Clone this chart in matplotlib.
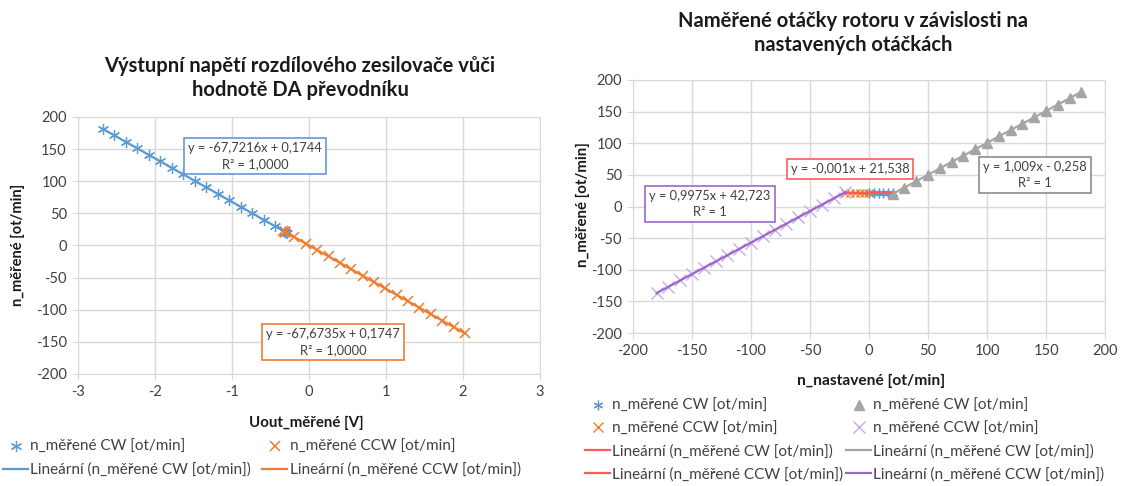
import matplotlib
matplotlib.use('Agg')
import matplotlib.pyplot as plt
from matplotlib.lines import Line2D
import numpy as np

plt.rcParams['font.family'] = ['Lato', 'DejaVu Sans']
plt.rcParams['axes.unicode_minus'] = False

# --- left chart: measured speed vs. output voltage of the diff. amplifier ---
cw_u = [-2.676, -2.527, -2.378, -2.229, -2.078, -1.929, -1.780, -1.631, -1.483,
        -1.334, -1.185, -1.037, -0.888, -0.739, -0.590, -0.440, -0.291,
        -0.315, -0.316, -0.315, -0.317, -0.315]
cw_n = [181.4, 171.3, 161.2, 151.1, 140.9, 130.8, 120.7, 110.6, 100.6,
        90.5, 80.4, 70.4, 60.3, 50.2, 40.1, 30.0, 19.9,
        21.5, 21.6, 21.5, 21.6, 21.5]
ccw_u = [-0.315, -0.316, -0.315, -0.317, -0.315,
         -0.334, -0.190, -0.042, 0.106, 0.254, 0.402, 0.549, 0.697, 0.845,
         0.991, 1.139, 1.287, 1.434, 1.582, 1.730, 1.878, 2.024]
ccw_n = [21.5, 21.6, 21.5, 21.6, 21.5,
         22.8, 13.0, 3.0, -7.0, -17.0, -27.0, -37.0, -47.0, -57.0,
         -66.9, -76.9, -86.9, -96.9, -106.9, -116.9, -126.9, -136.8]
fit_cw_u = (-67.7216, 0.1744)
fit_ccw_u = (-67.6735, 0.1747)

# --- right chart: measured speed vs. set speed ---
cw_dead_set = [0, 4, 8, 12, 16, 20]
cw_dead_meas = [21.5, 21.6, 21.5, 21.5, 21.6, 21.5]
ccw_dead_set = [-20, -16, -12, -8, -4, 0]
ccw_dead_meas = [21.5, 21.6, 21.5, 21.5, 21.5, 21.6]
cw_set = [20, 30, 40, 50, 60, 70, 80, 90, 100, 110, 120, 130, 140, 150, 160, 170, 180]
cw_meas = [19.9, 30.0, 40.1, 50.2, 60.3, 70.4, 80.5, 90.6, 100.6, 110.7, 120.8,
           130.9, 141.0, 151.1, 161.2, 171.3, 181.4]
ccw_set = [-180, -170, -160, -150, -140, -130, -120, -110, -100, -90, -80, -70,
           -60, -50, -40, -30, -20]
ccw_meas = [-136.8, -126.9, -116.9, -106.9, -96.9, -86.9, -76.9, -66.9, -57.0,
            -47.0, -37.0, -27.0, -17.0, -7.0, 3.0, 13.0, 22.8]
fit_dead = (-0.001, 21.538)
fit_cw = (1.009, -0.258)
fit_ccw = (0.9975, 42.723)

BLUE = '#5B9BD5'
ORANGE = '#ED7D31'
GRAY = '#A5A5A5'
PURPLE = '#9966CC'
PURPLE_LT = '#C9ADE6'
RED = '#FF5B5B'
GRID = '#D9D9D9'
TXT = '#404040'
ASTER = (6, 2, 0)

fig = plt.figure(figsize=(11.25, 4.86), dpi=100)
ax1 = fig.add_axes([0.0693, 0.2305, 0.4107, 0.5288])
ax2 = fig.add_axes([0.5627, 0.3148, 0.4196, 0.5206])


def style_axes(ax, xticks, yticks):
    ax.set_xlim(xticks[0], xticks[-1])
    ax.set_ylim(yticks[0], yticks[-1])
    ax.set_xticks(xticks)
    ax.set_yticks(yticks)
    ax.grid(True, color=GRID, lw=1)
    ax.set_axisbelow(True)
    for s in ax.spines.values():
        s.set_color(GRID)
    ax.tick_params(length=4, color=GRID, labelsize=10.5, labelcolor=TXT, pad=4)


def trend(ax, xs, coef, color):
    x = np.array([min(xs), max(xs)])
    ax.plot(x, coef[0] * x + coef[1], color=color, lw=1.6, zorder=3)


def eq_box(fig, x, y, text, color):
    fig.text(x / 1125, 1 - y / 486, text, ha='center', va='center', fontsize=9.3,
             color=TXT, linespacing=1.4,
             bbox=dict(boxstyle='square,pad=0.3', fc='white', ec=color, lw=1.2))


def legend(fig, handles, labels, x, y, cs):
    fig.legend(handles, labels, ncol=2, loc='upper left', bbox_to_anchor=(x / 1125, 1 - y / 486),
               frameon=False, fontsize=11, labelcolor=TXT, handlelength=1.65,
               handletextpad=0.15, columnspacing=cs, labelspacing=0.56,
               borderaxespad=0, borderpad=0)


# left chart
style_axes(ax1, [-3, -2, -1, 0, 1, 2, 3], [-200, -150, -100, -50, 0, 50, 100, 150, 200])
ax1.plot(cw_u, cw_n, ls='none', marker=ASTER, ms=8, mew=0.9, color=BLUE, zorder=2)
ax1.plot(ccw_u, ccw_n, ls='none', marker='x', ms=7, mew=1.1, color=ORANGE, zorder=2)
trend(ax1, cw_u, fit_cw_u, BLUE)
trend(ax1, ccw_u, fit_ccw_u, ORANGE)

fig.text(300 / 1125, 1 - 78 / 486, 'Výstupní napětí rozdílového zesilovače vůči\nhodnotě DA převodníku',
         ha='center', va='center', fontsize=14.5, fontweight='bold', color='#1a1a1a', linespacing=1.3)
fig.text(18 / 1125, 1 - 245 / 486, 'n_měřené [ot/min]', rotation=90, ha='center', va='center',
         fontsize=10.5, fontweight='bold', color='#1a1a1a')
fig.text(306 / 1125, 1 - 423 / 486, 'Uout_měřené [V]', ha='center', va='center',
         fontsize=10.8, fontweight='bold', color='#1a1a1a')
eq_box(fig, 255, 156, 'y = -67,7216x + 0,1744\nR² = 1,0000', '#6A95D8')
eq_box(fig, 333, 342, 'y = -67,6735x + 0,1747\nR² = 1,0000', ORANGE)

h1 = [Line2D([], [], ls='none', marker=ASTER, ms=8, mew=0.9, color=BLUE),
      Line2D([], [], color=BLUE, lw=1.6),
      Line2D([], [], ls='none', marker='x', ms=7, mew=1.1, color=ORANGE),
      Line2D([], [], color=ORANGE, lw=1.6)]
l1 = ['n_měřené CW [ot/min]', 'Lineární (n_měřené CW [ot/min])',
      'n_měřené CCW [ot/min]', 'Lineární (n_měřené CCW [ot/min])']
legend(fig, h1, l1, 3, 440, 0.7)

# right chart
style_axes(ax2, [-200, -150, -100, -50, 0, 50, 100, 150, 200],
           [-200, -150, -100, -50, 0, 50, 100, 150, 200])
ax2.plot(cw_dead_set, cw_dead_meas, ls='none', marker=ASTER, ms=7, mew=0.9, color=BLUE, zorder=2)
ax2.plot(ccw_dead_set, ccw_dead_meas, ls='none', marker='x', ms=6, mew=1.0, color=ORANGE, zorder=2)
ax2.plot(cw_set, cw_meas, ls='none', marker='^', ms=6.5, color=GRAY, zorder=2)
ax2.plot(ccw_set, ccw_meas, ls='none', marker='x', ms=8, mew=1.0, color=PURPLE_LT, zorder=2)
trend(ax2, cw_dead_set, fit_dead, RED)
trend(ax2, ccw_dead_set, fit_dead, RED)
trend(ax2, cw_set, fit_cw, GRAY)
trend(ax2, ccw_set, fit_ccw, PURPLE)

fig.text(853 / 1125, 1 - 33 / 486, 'Naměřené otáčky rotoru v závislosti na\nnastavených otáčkách',
         ha='center', va='center', fontsize=14.5, fontweight='bold', color='#1a1a1a', linespacing=1.3)
fig.text(583 / 1125, 1 - 205 / 486, 'n_měřené [ot/min]', rotation=90, ha='center', va='center',
         fontsize=10.8, fontweight='bold', color='#1a1a1a')
fig.text(871 / 1125, 1 - 381 / 486, 'n_nastavené [ot/min]', ha='center', va='center',
         fontsize=11.2, fontweight='bold', color='#1a1a1a')
eq_box(fig, 850, 169, 'y = -0,001x + 21,538', RED)
eq_box(fig, 710, 204, 'y = 0,9975x + 42,723\nR² = 1', PURPLE)
eq_box(fig, 1035, 175, 'y = 1,009x - 0,258\nR² = 1', '#8C8C8C')

h2 = [Line2D([], [], ls='none', marker=ASTER, ms=7, mew=0.9, color=BLUE),
      Line2D([], [], ls='none', marker='x', ms=7, mew=1.0, color=ORANGE),
      Line2D([], [], color=RED, lw=1.6),
      Line2D([], [], color=RED, lw=1.6),
      Line2D([], [], ls='none', marker='^', ms=6.5, color=GRAY),
      Line2D([], [], ls='none', marker='x', ms=8, mew=1.0, color=PURPLE_LT),
      Line2D([], [], color=GRAY, lw=1.6),
      Line2D([], [], color=PURPLE, lw=1.6)]
l2 = ['n_měřené CW [ot/min]', 'n_měřené CCW [ot/min]',
      'Lineární (n_měřené CW [ot/min])', 'Lineární (n_měřené CCW [ot/min])',
      'n_měřené CW [ot/min]', 'n_měřené CCW [ot/min]',
      'Lineární (n_měřené CW [ot/min])', 'Lineární (n_měřené CCW [ot/min])']
legend(fig, h2, l2, 585, 399, 0.15)

fig.savefig('out.png', dpi=100, facecolor='white')
